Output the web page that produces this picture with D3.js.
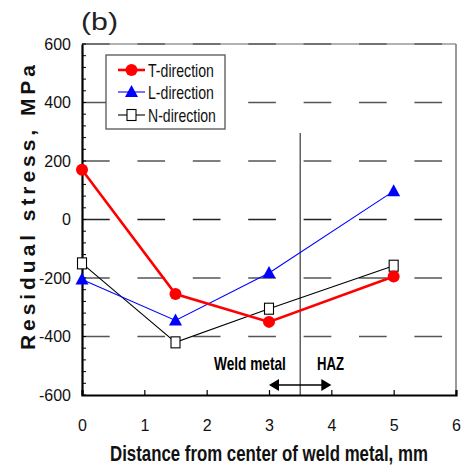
<!DOCTYPE html>
<html><head><meta charset="utf-8">
<script src="https://cdn.jsdelivr.net/npm/d3@7"></script>
<style>body{margin:0;background:#fff}svg{display:block}text{font-family:"Liberation Sans",Arial,sans-serif}</style>
</head><body>
<script>
const xTicks = [0,1,2,3,4,5,6];
const yTicks = [-600,-400,-200,0,200,400,600];
const distances = [0, 1.5, 3, 5];
const tDirection = [170, -255, -350, -195];
const lDirection = [-205, -345, -183, 97];
const nDirection = [-150, -420, -305, -158];
const seriesNames = ["T-direction","L-direction","N-direction"];
const boundaryX = 3.5;
const arrowRange = [3, 4];

const W=473,H=472;
const svg=d3.select("body").append("svg").attr("width",W).attr("height",H);
const x=d3.scaleLinear().domain([0,6]).range([82,456]);
const y=d3.scaleLinear().domain([-600,600]).range([395,44]);
const fmt=d=>String(d);

// place a text horizontally squeezed to a target width using a transform
function squeezed(parent,str,x0,y0,size,weight,width,fill){
  const t=parent.append("text").attr("font-size",size).attr("font-weight",weight).attr("fill",fill||"#111").text(str);
  const nat=t.node().getComputedTextLength();
  const s=width/nat;
  t.attr("transform",`translate(${x0},${y0}) scale(${s},1)`);
  return t;
}

// grid lines (dashed)
const gridVals=[-400,-200,0,200,400,600];
svg.append("g").selectAll("line").data(gridVals).join("line")
  .attr("x1",x(0)).attr("x2",x(6)).attr("y1",d=>y(d)).attr("y2",d=>y(d))
  .attr("stroke",d=>d===0?"#222":"#555").attr("stroke-width",1.3)
  .attr("stroke-dasharray","27.7,27.7");

// frame top/right gray
svg.append("line").attr("x1",x(0)).attr("x2",x(6)).attr("y1",y(600)).attr("y2",y(600)).attr("stroke","#666").attr("stroke-width",1.2);
svg.append("line").attr("x1",x(6)).attr("x2",x(6)).attr("y1",y(600)).attr("y2",y(-600)).attr("stroke","#777").attr("stroke-width",1.5);

// minor y ticks
const minor=d3.range(-600,601,40);
svg.append("g").selectAll("line").data(minor).join("line")
  .attr("x1",x(0)).attr("x2",x(0)+4).attr("y1",d=>y(d)).attr("y2",d=>y(d))
  .attr("stroke","#000").attr("stroke-width",1);

// axes
const yAxis=d3.axisLeft(y).tickValues(yTicks).tickSize(0).tickPadding(11).tickFormat(fmt);
const gy=svg.append("g").attr("transform",`translate(${x(0)},0)`).call(yAxis);
gy.select(".domain").attr("stroke-width",2.2);
gy.selectAll("text").attr("font-size",16).attr("fill","#111");

const xAxis=d3.axisBottom(x).tickValues(xTicks).tickSize(-5).tickPadding(25).tickFormat(fmt);
const gx=svg.append("g").attr("transform",`translate(0,${y(-600)})`).call(xAxis);
gx.select(".domain").attr("stroke-width",2.2);
gx.selectAll(".tick line").attr("stroke-width",1.2);
gx.selectAll("text").attr("font-size",16).attr("fill","#111");
gy.select(".domain").raise();

// boundary line
svg.append("line").attr("x1",x(boundaryX)).attr("x2",x(boundaryX)).attr("y1",133).attr("y2",y(-600))
  .attr("stroke","#111").attr("stroke-width",1);

// arrow
const ay=385;
svg.append("line").attr("x1",x(arrowRange[0])+8).attr("x2",x(arrowRange[1])-8).attr("y1",ay).attr("y2",ay).attr("stroke","#000").attr("stroke-width",1.3);
svg.append("path").attr("d",`M${x(arrowRange[0])},${ay} l10,-6 l0,12 z`).attr("fill","#000");
svg.append("path").attr("d",`M${x(arrowRange[1])},${ay} l-10,-6 l0,12 z`).attr("fill","#000");
squeezed(svg,"Weld metal",214,370,18,"bold",72,"#000");
squeezed(svg,"HAZ",317,370,18,"bold",27,"#000");

// series
const line=d3.line().x(d=>x(d[0])).y(d=>y(d[1]));
const mk=vals=>distances.map((d,i)=>[d,vals[i]]);
const sT=mk(tDirection), sL=mk(lDirection), sN=mk(nDirection);

svg.append("path").datum(sN).attr("d",line).attr("fill","none").attr("stroke","#000").attr("stroke-width",1.1);
svg.append("path").datum(sL).attr("d",line).attr("fill","none").attr("stroke","#0000ff").attr("stroke-width",1.1);
svg.append("path").datum(sT).attr("d",line).attr("fill","none").attr("stroke","#ff0000").attr("stroke-width",2.6);

const tri=(cx,cy)=>`M${cx},${cy-7} L${cx+6.5},${cy+5} L${cx-6.5},${cy+5} Z`;
function drawSquare(g,cx,cy){g.append("rect").attr("x",cx-4.5).attr("y",cy-5.5).attr("width",9).attr("height",11).attr("fill","#fff").attr("stroke","#000").attr("stroke-width",1.1);}
sN.forEach(d=>drawSquare(svg,x(d[0]),y(d[1])));
svg.append("g").selectAll("path").data(sL).join("path").attr("d",d=>tri(x(d[0]),y(d[1]))).attr("fill","#0000ff");
svg.append("g").selectAll("circle").data(sT).join("circle").attr("cx",d=>x(d[0])).attr("cy",d=>y(d[1])).attr("r",6).attr("fill","#ff0000");

// legend
const lg=svg.append("g");
lg.append("rect").attr("x",106).attr("y",55).attr("width",119).attr("height",74).attr("fill","#fff").attr("stroke","#555").attr("stroke-width",1.3);
const ly=[70,92,115];
lg.append("line").attr("x1",118).attr("x2",145).attr("y1",ly[0]).attr("y2",ly[0]).attr("stroke","#ff0000").attr("stroke-width",2.6);
lg.append("circle").attr("cx",131.5).attr("cy",ly[0]).attr("r",6).attr("fill","#ff0000");
lg.append("line").attr("x1",118).attr("x2",145).attr("y1",ly[1]).attr("y2",ly[1]).attr("stroke","#0000ff").attr("stroke-width",1.1);
lg.append("path").attr("d",tri(131.5,ly[1])).attr("fill","#0000ff");
lg.append("line").attr("x1",118).attr("x2",145).attr("y1",ly[2]).attr("y2",ly[2]).attr("stroke","#000").attr("stroke-width",1.1);
drawSquare(lg,131.5,ly[2]);
const lw=[66,66,68];
seriesNames.forEach((s,i)=>squeezed(lg,s,148,ly[i]+6.5,17.5,"normal",lw[i],"#111"));

// titles
svg.append("text").attr("x",81).attr("y",30).attr("font-size",23).attr("font-family","DejaVu Sans").attr("font-weight","300")
  .attr("textLength",37).attr("lengthAdjust","spacingAndGlyphs").attr("fill","#222").text("(b)");
squeezed(svg,"Distance from center of weld metal, mm",110,461,22,"bold",318,"#111");
svg.append("text").attr("transform","translate(35,350) rotate(-90)").attr("font-size",21).attr("font-weight","bold")
  .attr("textLength",285).attr("lengthAdjust","spacing").attr("fill","#111").text("Residual stress, MPa");
</script>
</body></html>
